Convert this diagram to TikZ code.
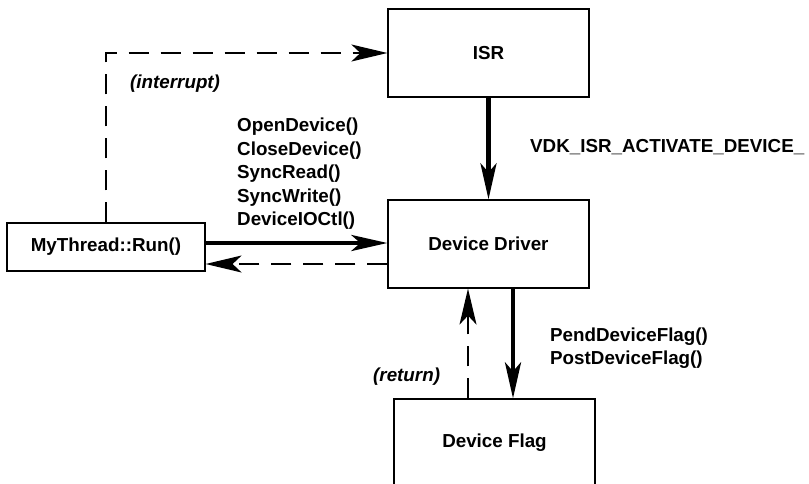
\documentclass[tikz,border=0pt]{standalone}
\usepackage{fontspec}
\setmainfont{Liberation Sans}
\usetikzlibrary{arrows.meta}

\begin{document}
\begin{tikzpicture}[x=1pt, y=-1pt,
    every node/.style={font=\bfseries\fontsize{18.8}{23.5}\selectfont},
    block/.style={draw, line width=1.2pt, minimum width=201pt, minimum height=88pt, inner sep=0pt},
    call/.style={anchor=north west, align=left, inner sep=0pt},
    note/.style={anchor=base west, inner sep=0pt, font=\bfseries\itshape\fontsize{18.8}{23.5}\selectfont},
    arrow/.style={-{Stealth[length=36pt, width=16pt, inset=9pt]}, line width=4.5pt},
    back/.style={-{Stealth[length=36pt, width=17pt, inset=9pt]}, line width=1.5pt, dash pattern=on 20pt off 12pt}
    ]
\useasboundingbox (0,0) rectangle (809,483);

% Blocks
\node[block] (isr) at (488.5,53) {ISR};
\node[block] (driver) at (488.5,244) {Device Driver};
\node[block] (flag) at (494.5,443) {Device Flag};
\node[block, minimum width=198pt, minimum height=48pt] (thread) at (106,247) {MyThread::Run()};

% Labels
\node[note] (interrupt) at (130,88) {(interrupt)};
\node[call] (calls) at (237,118) {OpenDevice()\\CloseDevice()\\SyncRead()\\SyncWrite()\\DeviceIOCtl()};
\node[anchor=base west, inner sep=0pt] (activate) at (530,152) {VDK\_ISR\_ACTIVATE\_DEVICE\_};
\node[call, font=\bfseries\fontsize{18.8}{23}\selectfont] (flagcalls) at (550,328) {PendDeviceFlag()\\PostDeviceFlag()};
\node[note] (return) at (373,381) {(return)};

% Arrows
\draw[back] (thread.north) |- (isr.west);
\draw[arrow] (isr.south) -- (driver.north);
\draw[arrow] ([yshift=4pt]thread.east) -- ([yshift=4pt]thread.east -| driver.west);
\draw[back] ([yshift=-20pt]driver.west) -- ([yshift=-20pt]driver.west -| thread.east);
\draw[arrow] ([xshift=24.5pt]driver.south) -- ([xshift=24.5pt]driver.south |- flag.north);
\draw[back] ([xshift=-20.5pt]driver.south |- flag.north) -- ([xshift=-20.5pt]driver.south);

\end{tikzpicture}
\end{document}
